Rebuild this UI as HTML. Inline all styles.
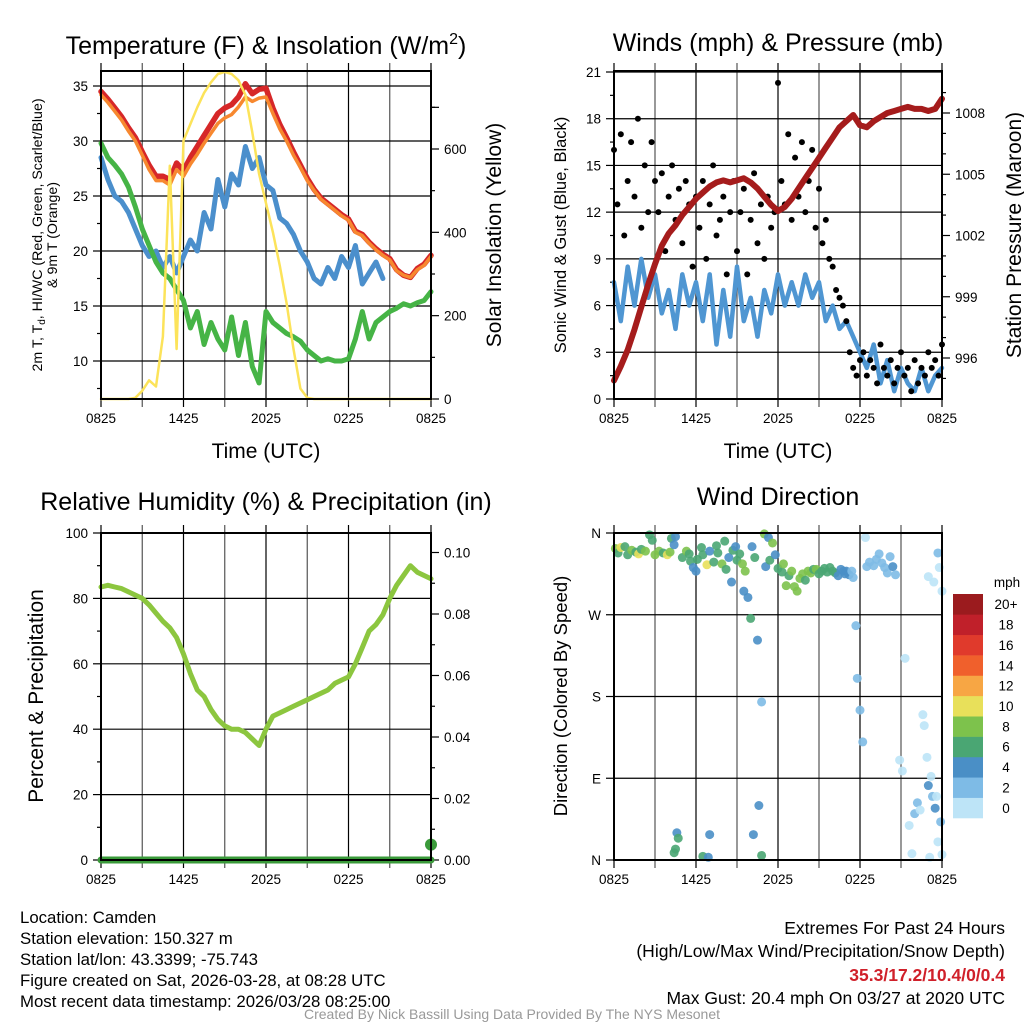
<!DOCTYPE html>
<html><head><meta charset="utf-8"><style>
html,body{margin:0;padding:0;background:#fff;}
svg text{font-family:"Liberation Sans",Arial,sans-serif;fill:#000;}
</style></head><body>
<svg id="chart" width="1024" height="1024" viewBox="0 0 1024 1024" xmlns="http://www.w3.org/2000/svg">
<g id="g1"></g>
<g id="g2"></g>
<g id="g3"></g>
<g id="g4"></g>
<g id="txt">
<text x="266" y="54" font-size="25" text-anchor="middle">Temperature (F) &amp; Insolation (W/m<tspan font-size="16" dy="-10">2</tspan><tspan dy="10">)</tspan></text>
<text x="778" y="51" font-size="25" text-anchor="middle">Winds (mph) &amp; Pressure (mb)</text>
<text x="266" y="510" font-size="25" text-anchor="middle">Relative Humidity (%) &amp; Precipitation (in)</text>
<text x="778" y="505" font-size="25" text-anchor="middle">Wind Direction</text>
<text x="266" y="458" font-size="21" text-anchor="middle">Time (UTC)</text>
<text x="778" y="458" font-size="21" text-anchor="middle">Time (UTC)</text>
<text transform="translate(42,235) rotate(-90)" font-size="14.2" text-anchor="middle">2m T, T<tspan font-size="10" dy="3">d</tspan><tspan dy="-3">, HI/WC (Red, Green, Scarlet/Blue)</tspan></text>
<text transform="translate(57,235) rotate(-90)" font-size="14.2" text-anchor="middle">&amp; 9m T (Orange)</text>
<text transform="translate(501,235) rotate(-90)" font-size="21" text-anchor="middle">Solar Insolation (Yellow)</text>
<text transform="translate(566,235) rotate(-90)" font-size="16.5" text-anchor="middle">Sonic Wind &amp; Gust (Blue, Black)</text>
<text transform="translate(1021,235) rotate(-90)" font-size="21" text-anchor="middle">Station Pressure (Maroon)</text>
<text transform="translate(43,696) rotate(-90)" font-size="21" text-anchor="middle">Percent &amp; Precipitation</text>
<text transform="translate(567,696) rotate(-90)" font-size="18.5" text-anchor="middle">Direction (Colored By Speed)</text>
<g font-size="16.8">
<text x="20" y="923">Location: Camden</text>
<text x="20" y="944">Station elevation: 150.327 m</text>
<text x="20" y="965">Station lat/lon: 43.3399; -75.743</text>
<text x="20" y="986">Figure created on Sat, 2026-03-28, at 08:28 UTC</text>
<text x="20" y="1007">Most recent data timestamp: 2026/03/28 08:25:00</text>
</g>
<g font-size="17.5" text-anchor="end">
<text x="1005" y="934">Extremes For Past 24 Hours</text>
<text x="1005" y="957">(High/Low/Max Wind/Precipitation/Snow Depth)</text>
<text x="1005" y="981" font-weight="bold" style="fill:#d0202a">35.3/17.2/10.4/0/0.4</text>
<text x="1005" y="1004">Max Gust: 20.4 mph On 03/27 at 2020 UTC</text>
</g>
<text x="512" y="1019" font-size="14" text-anchor="middle" style="fill:#999">Created By Nick Bassill Using Data Provided By The NYS Mesonet</text>
</g>
</svg>
<script>
// ---- data (30-minute steps, 0825 -> 0825) ----
const xTickLabels = ['0825','1425','2025','0225','0825'];
const tempTicks = [10,15,20,25,30,35];
const solarTicks = [0,200,400,600];
const windTicks = [0,3,6,9,12,15,18,21];
const pressTicks = [996,999,1002,1005,1008];
const rhTicks = [0,20,40,60,80,100];
const precipTicks = [0.00,0.02,0.04,0.06,0.08,0.10];
const dirTickLabels = ['N','E','S','W','N'];
const speedBins = ['0','2','4','6','8','10','12','14','16','18','20+'];

const tempRed = [34.5,33.8,33.0,32.2,31.2,30.3,29.0,27.8,26.8,26.8,26.5,28.0,27.3,28.5,29.5,30.5,31.5,32.5,33.0,33.3,34.0,35.2,34.3,34.7,34.8,33.0,31.5,30.3,29.0,27.8,26.6,25.6,24.8,24.3,23.8,23.3,22.9,21.8,21.5,20.8,20.2,19.7,19.3,18.3,17.8,17.6,18.4,18.8,19.6];
const temp9m = [34.2,33.5,32.7,31.9,30.9,30.0,28.7,27.4,26.4,26.4,26.0,27.4,26.8,27.9,28.8,29.8,30.7,31.6,32.1,32.4,33.1,34.0,33.6,33.9,34.0,32.5,31.1,30.0,28.7,27.6,26.4,25.5,24.7,24.2,23.7,23.2,22.8,21.7,21.4,20.7,20.1,19.6,19.2,18.2,17.8,17.6,18.3,18.7,19.5];
const tempHiWc = [28.5,26.5,25.0,24.5,23.5,22.0,20.5,19.5,20.0,18.5,19.5,18.0,19.5,21.0,20.0,23.5,22.0,26.5,24.0,27.0,26.0,29.5,27.5,28.5,26.0,25.5,23.0,22.5,21.5,20.0,19.0,17.5,17.0,18.5,17.5,19.5,18.5,20.5,17.0,18.0,19.0,17.5,null,null,null,null,null,null,null];
const tempDew = [29.8,28.5,27.8,27.0,25.8,24.0,22.0,20.5,19.0,18.0,17.5,16.5,15.5,13.0,14.5,11.5,13.5,12.0,11.0,14.0,10.5,13.5,9.5,8.0,14.5,13.5,13.0,12.5,12.2,11.8,11.0,10.5,10.0,10.2,10.0,10.0,10.2,12.0,14.5,12.0,13.5,14.0,14.5,14.8,15.2,15.0,15.3,15.5,16.3];
const solar = [0,0,0,0,0,3,20,45,30,150,560,120,620,660,700,735,760,780,785,780,765,730,640,540,470,400,320,230,120,25,3,0,0,0,0,0,0,0,0,0,0,0,0,0,0,0,0,0,0];

const windSpeed = [7.5,5,8.5,6,9,6.5,8,5.5,7,4.5,8,6,7.5,5,8,3.5,7,4,8.5,5,6.5,4,7,5.5,8,6,7.5,6,8,6.5,7.5,5,6,4.5,5,4,3,2,3.5,1,2.5,0.5,2,1,0.5,2,0.5,1.5,2];
const pressure = [994.9,995.6,996.4,997.4,998.5,999.6,1000.6,1001.5,1002.1,1002.5,1003.0,1003.4,1003.8,1004.1,1004.4,1004.6,1004.7,1004.6,1004.7,1004.8,1004.6,1004.3,1003.9,1003.5,1003.2,1003.4,1003.8,1004.3,1004.8,1005.3,1005.8,1006.3,1006.8,1007.3,1007.6,1007.9,1007.4,1007.3,1007.6,1007.8,1008.0,1008.1,1008.2,1008.3,1008.2,1008.2,1008.1,1008.2,1008.7];
// gusts at 15-minute steps
const gusts = [16,12.5,17,10.5,14,16.5,13,18,11,15,12,16.5,14,
12,14.5,9.5,13,15,11.5,13.5,10,14,12.5,8.5,13,
11,14,9,12.5,15,10.5,11.5,13,8,12,14,9.5,
12,13.5,8,11.5,14.5,10,12.5,9,13,11,12,20.3,
14,12.5,17,11.5,15.5,13,16.5,12,14,16,11,13.5,
10,11.5,9,8.5,7,6.5,6,5,3,2,1.5,2.5,
3,1.5,2.5,2,1,3.5,2,1.5,2.5,1,2,3,
1.5,2,0.5,2.5,1,2,1.5,3,2,2.5,1.5,3.5];

const rh = [83.5,84,83.5,83,82,81,80,78,75.5,73,71,68,63,57,52,50,46,43,41,40,40,39,37,35,40,44,45,46,47,48,49,50,51,52,54,55,56,60,65,70,72,75,80,84,87,90,88,87,86];
const precip = [0,0,0,0,0,0,0,0,0,0,0,0,0,0,0,0,0,0,0,0,0,0,0,0,0,0,0,0,0,0,0,0,0,0,0,0,0,0,0,0,0,0,0,0,0,0,0,0,0.005];

const dirHours = [0.1,0.3,0.5,0.8,1.0,1.3,1.6,1.8,2.0,2.3,2.6,2.8,3.0,3.3,3.6,3.9,4.1,4.2,4.4,4.5,5.0,5.3,5.5,5.6,5.8,6.0,6.1,6.4,6.5,6.8,7.0,7.3,7.5,7.6,7.9,8.1,8.2,8.4,8.6,8.7,8.9,9.0,9.2,9.4,9.5,9.6,9.8,10.0,10.1,10.3,10.5,10.8,11.0,11.1,11.3,11.4,11.6,11.8,12.0,12.3,12.4,12.6,12.8,13.0,13.2,13.4,13.6,13.8,14.0,14.2,14.4,14.6,14.8,15.0,15.2,15.4,15.6,15.8,16.0,16.2,16.4,16.6,16.8,16.9,17.0,17.2,17.4,17.5,17.7,17.8,18.0,18.2,18.4,18.5,18.7,19.0,19.2,19.4,19.6,19.8,20.0,20.2,20.4,20.6,20.9,21.1,21.3,21.6,21.8,22.0,22.2,22.4,22.6,22.7,22.9,23.0,23.2,23.3,23.5,23.7,23.9,23.1,24.0,23.6,23.7,23.8,23.4,23.0,24.0,4.6,4.7,4.5,4.4,6.5,6.9,7.0,10.2,10.6,10.8];
const dirDeg = [343,338,344,345,336,341,339,337,342,340,358,352,336,340,338,336,339,354,347,356,333,340,337,329,322,318,331,344,336,325,340,328,346,338,326,351,320,333,306,341,345,330,337,326,296,318,289,266,345,333,242,174,359,323,355,330,349,336,321,317,326,302,313,318,301,296,310,315,308,318,316,320,320,315,318,321,317,322,318,316,313,320,318,315,318,314,318,311,258,200,165,130,355,323,328,324,331,337,327,322,316,334,323,314,110,98,222,38,7,51,63,55,160,148,113,82,92,70,57,20,42,3,6,70,338,322,306,312,296,30,24,12,8,4,3,28,28,60,5];
const dirSpeed = [8,7,10,6,7,8,6,10,7,8,6,7,9,8,6,10,8,6,5,4,7,8,6,7,5,4,6,7,6,10,5,6,7,6,8,6,6,5,4,7,4,6,7,8,5,8,4,6,4,6,4,2,8,5,4,6,8,5,6,6,8,8,6,8,8,8,8,8,6,8,8,6,8,6,6,6,6,6,6,6,4,4,4,4,4,4,3,2,2,2,2,2,1,3,2,3,2,3,3,2,2,3,4,2,1,1,1,1,0,2,3,1,1,1,1,4,1,3,4,1,2,0,0,1,3,1,1,0,1,4,6,6,6,6,4,4,4,4,6];

// ---- helpers ----
const NS='http://www.w3.org/2000/svg';
function mk(parent,tag,attrs){const e=document.createElementNS(NS,tag);for(const k in attrs)e.setAttribute(k,attrs[k]);parent.appendChild(e);return e;}
function lin(d0,d1,r0,r1){return v=>r0+(v-d0)*(r1-r0)/(d1-d0);}
function pathFrom(vals,xf,yf,step){let d='',pen=false;vals.forEach((v,i)=>{if(v===null){pen=false;return;}d+=(pen?'L':'M')+xf(i*step).toFixed(1)+','+yf(v).toFixed(1);pen=true;});return d;}
function speedColor(s){const c=['#bde4f7','#7ebbe6','#4a8fc6','#4aa673','#7dc24c','#e8e05a','#f7a644','#f0602c','#e03a2c','#c0202a','#9b1b1e'];return c[Math.min(10,Math.floor(s/2))];}

function frame(g,L,R,T,B,xTicks){
  const grid=mk(g,'g',{});
  
  
  for(let k=0;k<=8;k++){const x=L+(R-L)*k/8;
    const ln=mk(grid,'line',{x1:x,y1:T-8,x2:x,y2:B+8,stroke:(k%2?'#555':'#000'),'stroke-width':1.2});
    
    }
  xTicks.forEach((t,k)=>{const tx=mk(g,'text',{x:L+(R-L)*k/4,y:B+24,'font-size':13.5,'text-anchor':'middle'});tx.textContent=t;
    
    });
  return grid;
}
function box(g,L,R,T,B){const r=mk(g,'rect',{x:L,y:T,width:R-L,height:B-T,fill:'none',stroke:'#000','stroke-width':2});
  
  }
function hgrid(grid,L,R,y){const ln=mk(grid,'line',{x1:L,y1:y,x2:R,y2:y,stroke:'#000','stroke-width':1.2});
  
  }
function ytick(g,x,y,label,side,len){const d=side==='l'?-1:1;mk(g,'line',{x1:x,y1:y,x2:x+d*len,y2:y,stroke:'#000','stroke-width':1.2});
  if(label!==null){const t=mk(g,'text',{x:x+d*(len+5),y:y+5,'font-size':13.5,'text-anchor':side==='l'?'end':'start'});t.textContent=label;
  
  }}
function line(g,d,color,w,name){const p=mk(g,'path',{d:d,fill:'none',stroke:color,'stroke-width':w,'stroke-linejoin':'round','stroke-linecap':'round'});
  
  return p;}

// ---- panel 1: temperature ----
(function(){
  const g=document.getElementById('g1');const L=101,R=431,T=71,B=399;
  const x=lin(0,24,L,R), y=lin(35,10,86,361), ys=lin(0,600,399,149);
  const grid=frame(g,L,R,T,B,xTickLabels);
  tempTicks.forEach(v=>{hgrid(grid,L,R,y(v));ytick(g,L,y(v),String(v),'l',8);});
  for(let v=7.5;v<36;v+=5)ytick(g,L,y(v),null,'l',4);
  solarTicks.forEach(v=>ytick(g,R,ys(v),String(v),'r',8));
  for(let v=100;v<800;v+=200)ytick(g,R,ys(v),null,'r',4);
  ytick(g,R,ys(700),null,'r',8);
  line(g,pathFrom(tempHiWc,x,y,0.5),'#4b8fcc',5,'hi-wc-line');
  line(g,pathFrom(tempDew,x,y,0.5),'#46b446',5,'dewpoint-line');
  line(g,pathFrom(tempRed,x,y,0.5),'#d62728',5.5,'temperature-2m-line');
  line(g,pathFrom(temp9m,x,y,0.5),'#f7882f',3.5,'temperature-9m-line');
  line(g,pathFrom(solar,x,ys,0.5),'#fce35a',2.5,'solar-insolation-line');
  box(g,L,R,T,B);
})();

// ---- panel 2: winds ----
(function(){
  const g=document.getElementById('g2');const L=614,R=942,T=71,B=399;
  const x=lin(0,24,L,R), y=lin(0,21,399,72), yp=lin(996,1008,358,113);
  const grid=frame(g,L,R,T,B,xTickLabels);
  windTicks.forEach(v=>{hgrid(grid,L,R,y(v));ytick(g,L,y(v),String(v),'l',8);});
  for(let v=1.5;v<21;v+=3)ytick(g,L,y(v),null,'l',4);
  pressTicks.forEach(v=>ytick(g,R,yp(v),String(v),'r',8));
  for(let v=995;v<1010;v++){if((v-996)%3)ytick(g,R,yp(v),null,'r',4);}
  line(g,pathFrom(windSpeed,x,y,0.5),'#4f96d2',4.5,'sonic-wind-line');
  const gg=mk(g,'g',{});
  
  
  gusts.forEach((v,i)=>{const c=mk(gg,'circle',{cx:x(i*0.25),cy:y(v),r:3,fill:'#000'});
    
    });
  line(g,pathFrom(pressure,x,yp,0.5),'#a51c1c',6,'pressure-line');
  box(g,L,R,T,B);
})();

// ---- panel 3: humidity ----
(function(){
  const g=document.getElementById('g3');const L=101,R=431,T=533,B=860;
  const x=lin(0,24,L,R), y=lin(0,100,860,533), yp=lin(0,0.02,860,798.5);
  const grid=frame(g,L,R,T,B,xTickLabels);
  rhTicks.forEach(v=>{hgrid(grid,L,R,y(v));ytick(g,L,y(v),String(v),'l',8);});
  for(let v=10;v<100;v+=20)ytick(g,L,y(v),null,'l',4);
  precipTicks.forEach(v=>ytick(g,R,yp(v),v.toFixed(2),'r',8));
  for(let v=0.01;v<0.105;v+=0.02)ytick(g,R,yp(v),null,'r',4);
  line(g,pathFrom(rh,x,y,0.5),'#8cc63f',5,'relative-humidity-line');
  line(g,pathFrom(precip.map(()=>0),x,yp,0.5),'#3a9a3a',7,'precipitation-line');
  const last=precip.length-1;
  const c=mk(g,'circle',{cx:x(last*0.5),cy:yp(precip[last]),r:6,fill:'#3a9a3a'});
  
  
  box(g,L,R,T,B);
})();

// ---- panel 4: wind direction ----
(function(){
  const g=document.getElementById('g4');const L=614,R=942,T=533,B=860;
  const x=lin(0,24,L,R), y=lin(0,360,860,533);
  const grid=frame(g,L,R,T,B,xTickLabels);
  dirTickLabels.forEach((t,k)=>{const v=k*90;hgrid(grid,L,R,y(v));ytick(g,L,y(v),t,'l',8);});
  const pg=mk(g,'g',{});
  
  
  dirHours.forEach((h,i)=>{const c=mk(pg,'circle',{cx:x(h),cy:y(Math.min(360,dirDeg[i])),r:4.5,fill:speedColor(dirSpeed[i]),'fill-opacity':0.9});
    
    });
  box(g,L,R,T,B);
  const cb=mk(g,'g',{});
  
  
  const ht=(818-594)/speedBins.length;
  speedBins.forEach((lab,i)=>{const yy=818-(i+1)*ht;
    const r=mk(cb,'rect',{x:953,y:yy,width:30,height:ht+0.3,fill:speedColor(i*2)});
    
    
    const t=mk(cb,'text',{x:1006,y:yy+ht/2+5,'font-size':13.5,'text-anchor':'middle'});t.textContent=lab;
    
    });
  const u=mk(cb,'text',{x:1007,y:587,'font-size':13.5,'text-anchor':'middle'});u.textContent='mph';
  
  
})();
</script>
</body></html>
